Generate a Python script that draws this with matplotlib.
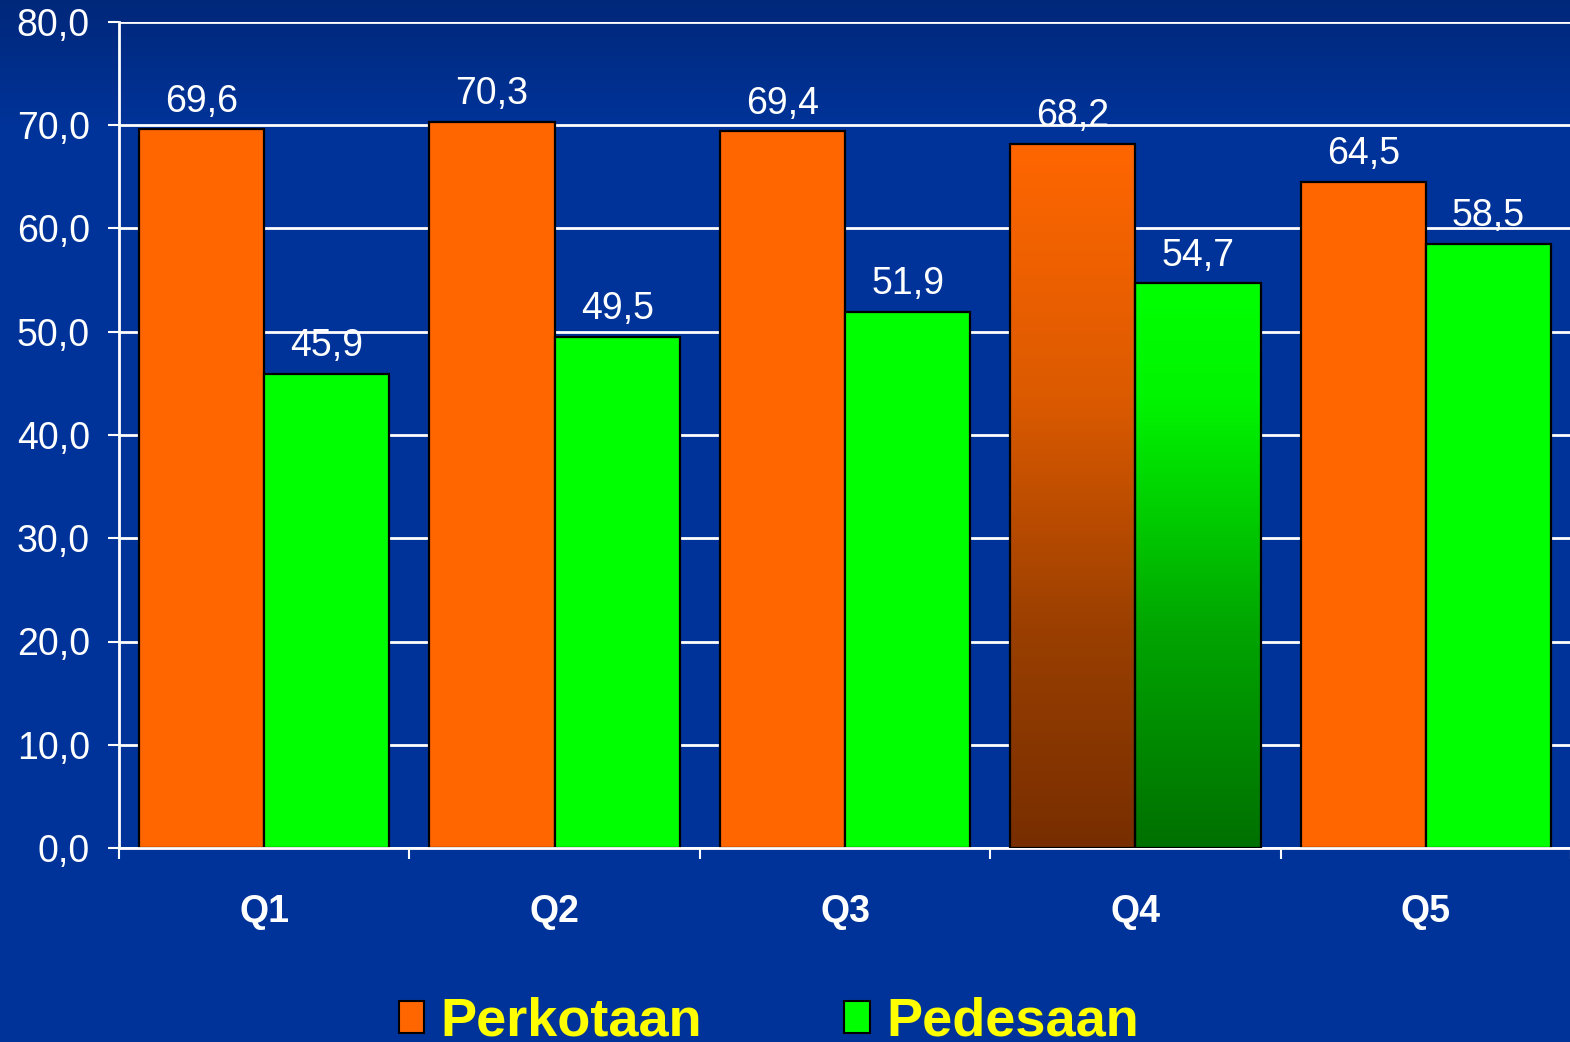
"""Perkotaan vs Pedesaan by quintile - grouped bar chart on a blue slide background."""
import matplotlib
matplotlib.use("Agg")
import matplotlib.pyplot as plt
import numpy as np
from matplotlib.colors import LinearSegmentedColormap
from matplotlib.patches import Patch

quintiles = ["Q1", "Q2", "Q3", "Q4", "Q5"]
perkotaan = [69.6, 70.3, 69.4, 68.2, 64.5]
pedesaan = [45.9, 49.5, 51.9, 54.7, 58.5]
series_names = ["Perkotaan", "Pedesaan"]
y_ticks = [0, 10, 20, 30, 40, 50, 60, 70, 80]

ORANGE = "#FF6600"
GREEN = "#00FF00"
BG = "#003399"
FONT = ["Liberation Sans", "DejaVu Sans"]
plt.rcParams["font.family"] = FONT

fig = plt.figure(figsize=(15.7, 10.42), dpi=100)

# slide background: slight darkening at the very top
bg = fig.add_axes([0, 0, 1, 1], zorder=-10)
bg_cmap = LinearSegmentedColormap.from_list("bg", [(0, "#00287A"), (0.12, BG), (1, BG)])
bg.imshow(np.linspace(0, 1, 256)[:, None], cmap=bg_cmap, aspect="auto", extent=(0, 1, 0, 1))
bg.set_axis_off()

ax = fig.add_axes([119 / 1570, 194 / 1042, 1452 / 1570, 826 / 1042])
ax.patch.set_alpha(0)

w = 0.431
x = np.arange(len(quintiles))
left_o = x + 0.5 - w
left_g = x + 0.5

grad_o = LinearSegmentedColormap.from_list(
    "go", [(0, "#782E00"), (0.31, "#9A3F00"), (0.64, "#DC5A00"), (1, "#FF6600")])
grad_g = LinearSegmentedColormap.from_list(
    "gg", [(0, "#007000"), (0.38, "#00A400"), (0.8, "#00F500"), (1, "#00FF00")])

for i in range(len(quintiles)):
    for left, val, col, cmap in ((left_o[i], perkotaan[i], ORANGE, grad_o),
                                 (left_g[i], pedesaan[i], GREEN, grad_g)):
        if quintiles[i] == "Q4":
            # Q4 is highlighted with a vertical gradient fill
            ax.imshow(np.linspace(0, 1, 256)[:, None], cmap=cmap, origin="lower",
                      aspect="auto", extent=(left, left + w, 0, val), zorder=2)
            ax.bar(left, val, width=w, align="edge", fill=False,
                   edgecolor="black", linewidth=1.6, zorder=3)
        else:
            ax.bar(left, val, width=w, align="edge", color=col,
                   edgecolor="black", linewidth=1.6, zorder=2)
        ax.annotate(f"{val:.1f}".replace(".", ","), (left + w / 2, val),
                    xytext=(0, 7), textcoords="offset points", ha="center",
                    va="bottom", color="white", fontsize=27)

ax.set_xlim(0, len(quintiles))
ax.set_ylim(0, 80)
ax.set_yticks(y_ticks)
ax.set_yticklabels([f"{t:.1f}".replace(".", ",") for t in y_ticks])
ax.set_xticks(np.arange(len(quintiles) + 1))
ax.set_xticklabels([])
ax.set_xticks(x + 0.5, minor=True)
ax.set_xticklabels(quintiles, minor=True, fontweight="bold")

ax.yaxis.grid(True, color="white", linewidth=2)
ax.set_axisbelow(True)
for s in ("top", "right"):
    ax.spines[s].set_visible(False)
for s in ("left", "bottom"):
    ax.spines[s].set_color("white")
    ax.spines[s].set_linewidth(2)
ax.tick_params(axis="y", colors="white", labelsize=27, length=8, width=1.5, pad=13)
ax.tick_params(axis="x", which="major", colors="white", length=8, width=1.5)
ax.tick_params(axis="x", which="minor", colors="white", labelsize=27, length=0, pad=33)

handles = [Patch(facecolor=ORANGE, edgecolor="black", linewidth=1.5),
           Patch(facecolor=GREEN, edgecolor="black", linewidth=1.5)]
leg = fig.legend(handles, series_names, loc="upper left",
                 bbox_to_anchor=(399 / 1570, 1 - 997 / 1042), ncol=2, frameon=False,
                 prop={"family": FONT, "weight": "bold", "size": 39},
                 handlelength=0.47, handleheight=0.55, handletextpad=0.3,
                 columnspacing=2.62, borderpad=0, borderaxespad=0)
for t in leg.get_texts():
    t.set_color("#FFFF00")

fig.savefig("out.png", dpi=100, facecolor=BG)
